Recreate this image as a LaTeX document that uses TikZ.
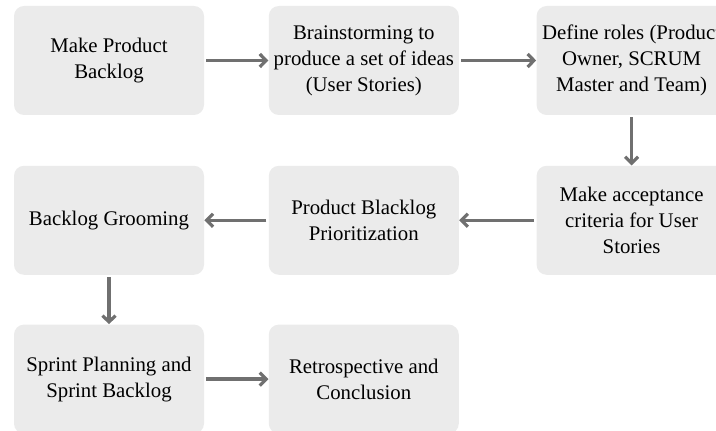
\documentclass[tikz,border=0pt]{standalone}
\usepackage{fontspec}
\setmainfont{Liberation Serif}
\usepackage{tikz}
\usetikzlibrary{positioning, arrows.meta}
\newcommand{\boxfont}{\fontsize{10.4pt}{13pt}\selectfont}
\definecolor{boxgray}  {RGB}{235, 235, 235}
\definecolor{arrowgray}{RGB}{112, 112, 112}
\tikzset{
  % Process step box
  stage/.style={
    rectangle, rounded corners=5pt,
    minimum width=95pt, minimum height=54.5pt,
    fill=boxgray, draw=none, inner sep=2pt,
    font=\boxfont, align=center, text=black
  },
  % Arrow style
  arr/.style={-{Straight Barb[length=3.2pt, width=6.5pt]}, line width=1.6pt,
    color=arrowgray, shorten <=1pt},
}
\begin{document}
\begin{tikzpicture}[node distance=25pt and 32pt]
  \useasboundingbox (0,0) rectangle (358pt,-215.5pt);
  \node[stage] (backlog) at (54.5pt,-30.25pt) {Make Product\\Backlog};
  \node[stage, right=of backlog] (brainstorm) {Brainstorming to\\produce a set of ideas\\(User Stories)};
  \node[stage, right=38.5pt of brainstorm] (roles) {Define roles (Product\\Owner, SCRUM\\Master and Team)};
  \node[stage, below=of roles] (criteria) {Make acceptance\\criteria for User\\Stories};
  \node[stage, below=of brainstorm] (prio) {Product Blacklog\\Prioritization};
  \node[stage, below=of backlog] (grooming) {Backlog Grooming};
  \node[stage, below=24.5pt of grooming] (sprint) {Sprint Planning and\\Sprint Backlog};
  \node[stage, right=of sprint] (retro) {Retrospective and\\Conclusion};
  \draw[arr] (backlog) -- (brainstorm);
  \draw[arr] (brainstorm) -- (roles);
  \draw[arr] (roles) -- (criteria);
  \draw[arr] (criteria) -- (prio);
  \draw[arr] (prio) -- (grooming);
  \draw[arr] (grooming) -- (sprint);
  \draw[arr] (sprint) -- (retro);
\end{tikzpicture}
\end{document}
